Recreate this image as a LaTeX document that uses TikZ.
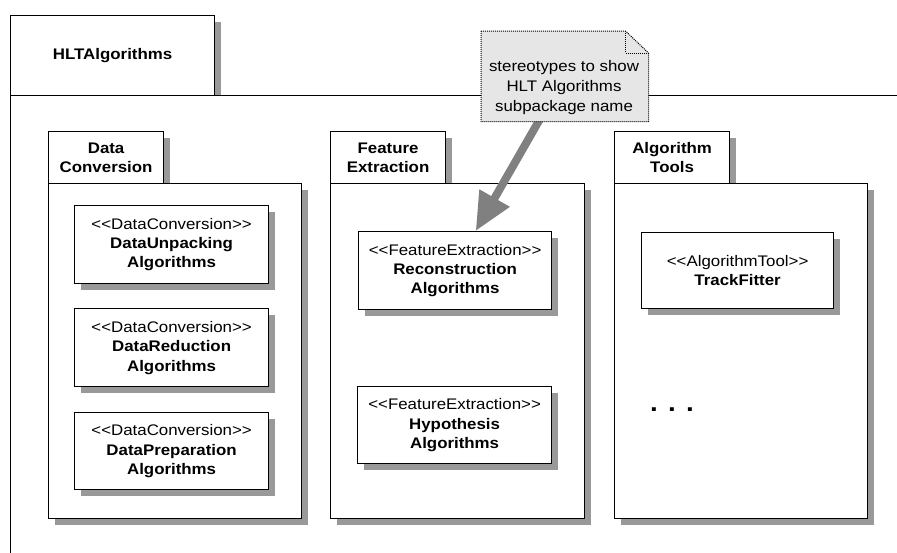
\documentclass[tikz,border=0pt]{standalone}
\usepackage{fontspec}
\setmainfont{Liberation Sans}[FakeStretch=1.1]
\usetikzlibrary{shadows,calc,arrows.meta}
\definecolor{shadowgray}{HTML}{999999}
\definecolor{notefill}{HTML}{E6E6E6}
\definecolor{arrowgray}{HTML}{808080}
\begin{document}
\begin{tikzpicture}[x=0.75pt,y=-0.75pt,
  font=\fontsize{11.5}{14.6}\selectfont,
  dshadow/.style={drop shadow={shadow xshift=4.5pt,shadow yshift=-4.5pt,fill=shadowgray,opacity=1}},
  umlbox/.style={draw,fill=white,line width=0.9pt,inner sep=0pt,anchor=north west,align=center,dshadow},
  pkgtab/.style={umlbox,font=\fontsize{11.5}{14.6}\selectfont\bfseries}
  ]
\useasboundingbox (0,0) rectangle (897,553);
\clip (0,0) rectangle (897,553);

% outer package
\node[pkgtab,minimum width=204*0.75pt,minimum height=80*0.75pt] (hlttab) at (10,15) {HLTAlgorithms};
\node[umlbox,minimum width=1000*0.75pt,minimum height=600*0.75pt] (hltbody) at (10,95) {};

% Data Conversion
\node[pkgtab,minimum width=115*0.75pt,minimum height=52*0.75pt] (dctab) at (48,131) {Data\\Conversion};
\node[umlbox,minimum width=253*0.75pt,minimum height=335*0.75pt] (dcbody) at (48,183) {};

% Feature Extraction
\node[pkgtab,minimum width=115*0.75pt,minimum height=52*0.75pt] (fetab) at (330,131) {Feature\\Extraction};
\node[umlbox,minimum width=254*0.75pt,minimum height=335*0.75pt] (febody) at (330,183) {};

% Algorithm Tools
\node[pkgtab,minimum width=115*0.75pt,minimum height=52*0.75pt] (attab) at (614,131) {Algorithm\\Tools};
\node[umlbox,minimum width=253*0.75pt,minimum height=335*0.75pt] (atbody) at (614,183) {};

% inner classes
\node[umlbox,minimum width=194*0.75pt,minimum height=78*0.75pt] (du) at (74,205)
  {<{}<DataConversion>{}>\\\textbf{DataUnpacking}\\\textbf{Algorithms}};
\node[umlbox,minimum width=194*0.75pt,minimum height=78*0.75pt] (dr) at (74,308)
  {<{}<DataConversion>{}>\\\textbf{DataReduction}\\\textbf{Algorithms}};
\node[umlbox,minimum width=194*0.75pt,minimum height=77*0.75pt] (dp) at (74,412)
  {<{}<DataConversion>{}>\\\textbf{DataPreparation}\\\textbf{Algorithms}};
\node[umlbox,minimum width=193*0.75pt,minimum height=78*0.75pt] (rc) at (358,231)
  {<{}<FeatureExtraction>{}>\\\textbf{Reconstruction}\\\textbf{Algorithms}};
\node[umlbox,minimum width=194*0.75pt,minimum height=77*0.75pt] (hy) at (357,386)
  {<{}<FeatureExtraction>{}>\\\textbf{Hypothesis}\\\textbf{Algorithms}};
\node[umlbox,minimum width=192*0.75pt,minimum height=76*0.75pt] (tf) at (641,232)
  {<{}<AlgorithmTool>{}>\\\textbf{TrackFitter}};

\node[font=\fontsize{19}{22}\selectfont\bfseries] (dots) at (672,410) {. . .};

% note
\node[minimum width=167*0.75pt,minimum height=90*0.75pt,inner sep=0pt,anchor=north west] (note) at (481,31) {};
\draw[arrowgray,line width=6pt,-{Triangle[length=28.5pt,width=24.6pt]}]
  ($(note.south west)!0.353!(note.south east)+(3,-8)$) -- ($(rc.north west)!0.606!(rc.north east)$);
\draw[line width=0.75pt,dash pattern=on 0.75pt off 0.75pt,fill=notefill]
  (note.north west) -- ($(note.north east)+(-23,0)$) -- ($(note.north east)+(0,22)$)
  -- (note.south east) -- (note.south west) -- cycle;
\draw[line width=0.75pt,dash pattern=on 0.75pt off 0.75pt]
  ($(note.north east)+(-23,0)$) -- ($(note.north east)+(-23,22)$) -- ($(note.north east)+(0,22)$);
\node[align=center,font=\fontsize{11.5}{15}\selectfont,inner sep=0pt] (notetext) at (564,88)
  {stereotypes to show\\HLT Algorithms\\subpackage name};
\end{tikzpicture}
\end{document}
